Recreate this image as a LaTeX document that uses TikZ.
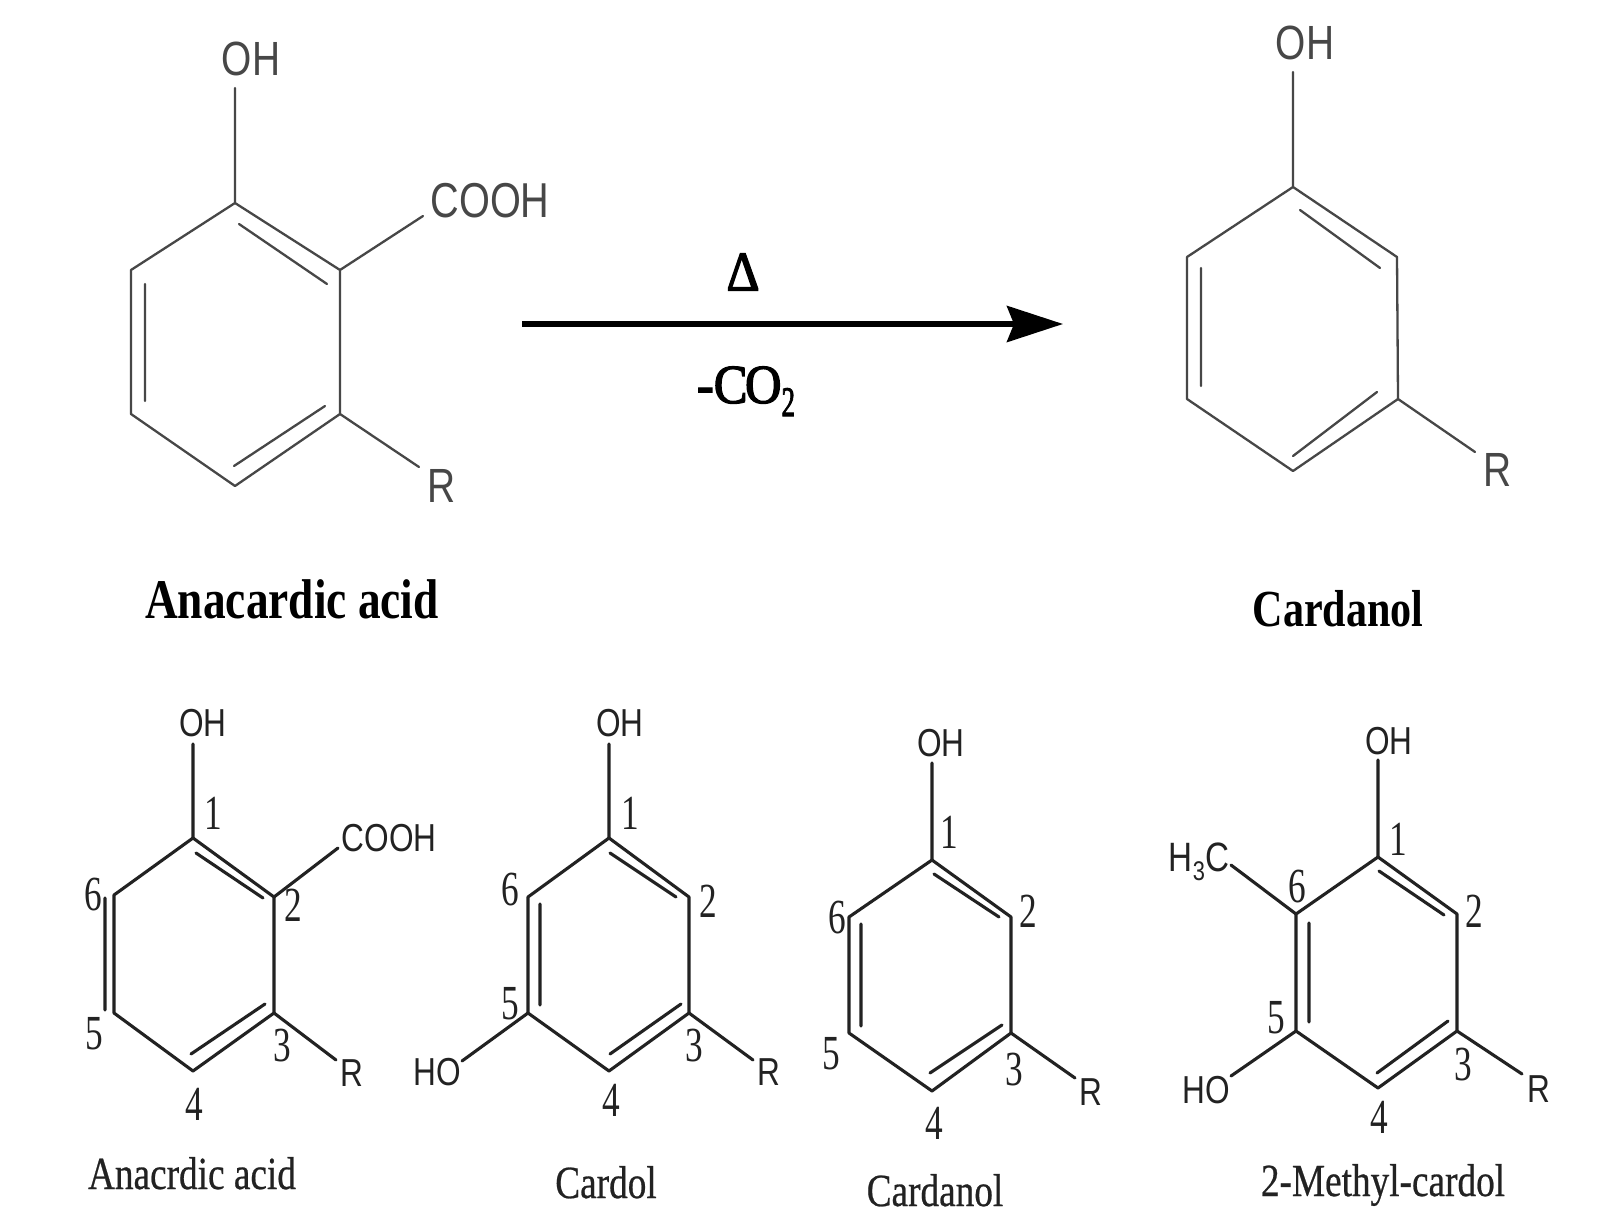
\documentclass[tikz,border=0pt]{standalone}
\usepackage{fontspec}
\setmainfont{Liberation Serif}
\newfontfamily\atomfont{Liberation Sans}
\newfontfamily\heavyserif[FakeBold=2.5]{Liberation Serif}
\newfontfamily\medserif[FakeBold=0.6]{Liberation Serif}
\usetikzlibrary{arrows.meta}
\definecolor{inkA}{HTML}{474747}
\definecolor{inkB}{HTML}{222222}
\newcommand{\squeezed}[2]{{\fontsize{#1}{#1}\selectfont\scalebox{0.81}[1]{#2}}}
\newcommand{\digitlab}[1]{{\fontsize{49}{49}\selectfont\scalebox{0.72}[1]{#1}}}
\newcommand{\subfig}[2]{\raisebox{-.22em}{\fontsize{#1}{#1}\selectfont #2}}
\tikzset{
  bondtop/.style={draw=inkA,line width=2.3pt,line join=round,line cap=round},
  bondlow/.style={draw=inkB,line width=3.1pt,line join=round,line cap=round},
  atomtop/.style={inner sep=0pt,text=inkA,font=\atomfont},
  atomlow/.style={inner sep=0pt,text=inkB,font=\atomfont},
  numlab/.style={inner sep=0pt,text=inkB,yshift=3.5pt},
  capbold/.style={inner sep=0pt,anchor=base,text=black,font=\bfseries},
  caplow/.style={inner sep=0pt,anchor=base,text=inkB,font=\medserif},
  rxnlab/.style={inner sep=0pt,text=black},
  rxnarrow/.style={draw=black,line width=5.5pt,-{Stealth[length=56pt,width=36pt,inset=7pt]}}
}
\begin{document}
\begin{tikzpicture}[x=1pt,y=-1pt]
\useasboundingbox[fill=white] (0,0) rectangle (1600,1223);

% --- top left: anacardic acid
\coordinate (a1) at (235,203);\coordinate (a2) at (340,270);\coordinate (a3) at (340,414);
\coordinate (a4) at (235,486);\coordinate (a5) at (131,414);\coordinate (a6) at (131,270);
\coordinate (aOHe) at (235,88);\coordinate (aCe) at (423,216);\coordinate (aRe) at (419,467);
\coordinate (ad1s) at (239,224);\coordinate (ad1e) at (327,284);
\coordinate (ad2s) at (145,284);\coordinate (ad2e) at (145,401);
\coordinate (ad3s) at (234,466);\coordinate (ad3e) at (325,406);
\draw[bondtop] (a1)--(a2)--(a3)--(a4)--(a5)--(a6)--cycle;
\draw[bondtop] (ad1s)--(ad1e) (ad2s)--(ad2e) (ad3s)--(ad3e);
\draw[bondtop] (a1)--(aOHe) (a2)--(aCe) (a3)--(aRe);
\node[atomtop] (aOH) at (251,59) {\squeezed{48}{OH}};
\node[atomtop] (aC) at (490,201) {\squeezed{49}{COOH}};
\node[atomtop] (aR) at (442,486) {\squeezed{48}{R}};
\node[capbold] (aCap) at (292,618) {\squeezed{56}{Anacardic acid}};

% --- reaction arrow
\coordinate (arS) at (522,324);\coordinate (arE) at (1063,324);
\draw[rxnarrow] (arS)--(arE);
\node[rxnlab] (delta) at (743,272) {\heavyserif\fontsize{56}{56}\selectfont\scalebox{0.92}[1]{Δ}};
\node[rxnlab,anchor=base] (co2) at (746,403) {\heavyserif\fontsize{55}{55}\selectfont\scalebox{0.92}[1]{-C\kern-.05em O\raisebox{-13pt}{\fontsize{42}{42}\selectfont\scalebox{0.7}[1]{2}}}};

% --- top right: cardanol
\coordinate (b1) at (1293,187);\coordinate (b2) at (1397,257);\coordinate (b3) at (1398,399);
\coordinate (b4) at (1293,471);\coordinate (b5) at (1187,399);\coordinate (b6) at (1187,257);
\coordinate (bOHe) at (1293,72);\coordinate (bRe) at (1475,452);
\coordinate (bd1s) at (1300,210);\coordinate (bd1e) at (1380,268);
\coordinate (bd2s) at (1201,268);\coordinate (bd2e) at (1201,386);
\coordinate (bd3s) at (1293,456);\coordinate (bd3e) at (1377,392);
\draw[bondtop] (b1)--(b2)--(b3)--(b4)--(b5)--(b6)--cycle;
\draw[bondtop] (bd1s)--(bd1e) (bd2s)--(bd2e) (bd3s)--(bd3e);
\draw[bondtop] (b1)--(bOHe) (b3)--(bRe);
\node[atomtop] (bOH) at (1305,43) {\squeezed{48}{OH}};
\node[atomtop] (bR) at (1498,470) {\squeezed{48}{R}};
\node[capbold] (bCap) at (1338,626) {\squeezed{52}{Cardanol}};

% --- bottom 1: anacrdic acid
\coordinate (c1) at (193,838);\coordinate (c2) at (274,897);\coordinate (c3) at (274,1013);
\coordinate (c4) at (193,1071);\coordinate (c5) at (114,1013);\coordinate (c6) at (114,895);
\coordinate (cOHe) at (193,744);\coordinate (cCe) at (338,848);\coordinate (cRe) at (336,1060);
\coordinate (cd1s) at (196,853);\coordinate (cd1e) at (263,898);
\coordinate (cd2s) at (105,898);\coordinate (cd2e) at (105,1010);
\coordinate (cd3s) at (191,1054);\coordinate (cd3e) at (265,1004);
\draw[bondlow] (c1)--(c2)--(c3)--(c4)--(c5)--(c6)--cycle;
\draw[bondlow] (cd1s)--(cd1e) (cd2s)--(cd2e) (cd3s)--(cd3e);
\draw[bondlow] (c1)--(cOHe) (c2)--(cCe) (c3)--(cRe);
\node[atomlow] (cOH) at (203,723) {\squeezed{39}{OH}};
\node[atomlow] (cC) at (389,838) {\squeezed{39}{COOH}};
\node[atomlow] (cR) at (352,1073) {\squeezed{39}{R}};
\node[numlab] (cn1) at (213,817) {\digitlab{1}};
\node[numlab] (cn2) at (293,909) {\digitlab{2}};
\node[numlab] (cn3) at (282,1049) {\digitlab{3}};
\node[numlab] (cn4) at (194,1108) {\digitlab{4}};
\node[numlab] (cn5) at (94,1037) {\digitlab{5}};
\node[numlab] (cn6) at (93,898) {\digitlab{6}};
\node[caplow] (cCap) at (192,1189) {\squeezed{46}{Anacrdic acid}};

% --- bottom 2: cardol
\coordinate (d1) at (609,838);\coordinate (d2) at (689,897);\coordinate (d3) at (689,1013);
\coordinate (d4) at (609,1071);\coordinate (d5) at (528,1013);\coordinate (d6) at (528,897);
\coordinate (dOHe) at (609,744);\coordinate (dHOe) at (462,1061);\coordinate (dRe) at (753,1060);
\coordinate (dd1s) at (610,853);\coordinate (dd1e) at (676,897);
\coordinate (dd2s) at (540,904);\coordinate (dd2e) at (540,1005);
\coordinate (dd3s) at (610,1054);\coordinate (dd3e) at (681,1004);
\draw[bondlow] (d1)--(d2)--(d3)--(d4)--(d5)--(d6)--cycle;
\draw[bondlow] (dd1s)--(dd1e) (dd2s)--(dd2e) (dd3s)--(dd3e);
\draw[bondlow] (d1)--(dOHe) (d5)--(dHOe) (d3)--(dRe);
\node[atomlow] (dOH) at (620,723) {\squeezed{39}{OH}};
\node[atomlow] (dHO) at (437,1072) {\squeezed{39}{HO}};
\node[atomlow] (dR) at (769,1072) {\squeezed{39}{R}};
\node[numlab] (dn1) at (630,817) {\digitlab{1}};
\node[numlab] (dn2) at (708,905) {\digitlab{2}};
\node[numlab] (dn3) at (694,1049) {\digitlab{3}};
\node[numlab] (dn4) at (611,1104) {\digitlab{4}};
\node[numlab] (dn5) at (510,1007) {\digitlab{5}};
\node[numlab] (dn6) at (510,893) {\digitlab{6}};
\node[caplow] (dCap) at (606,1198) {\squeezed{46}{Cardol}};

% --- bottom 3: cardanol
\coordinate (e1) at (932,860);\coordinate (e2) at (1011,917);\coordinate (e3) at (1011,1033);
\coordinate (e4) at (932,1091);\coordinate (e5) at (849,1033);\coordinate (e6) at (849,917);
\coordinate (eOHe) at (932,763);\coordinate (eRe) at (1075,1078);
\coordinate (ed1s) at (934,874);\coordinate (ed1e) at (999,917);
\coordinate (ed2s) at (861,924);\coordinate (ed2e) at (861,1026);
\coordinate (ed3s) at (930,1073);\coordinate (ed3e) at (1002,1025);
\draw[bondlow] (e1)--(e2)--(e3)--(e4)--(e5)--(e6)--cycle;
\draw[bondlow] (ed1s)--(ed1e) (ed2s)--(ed2e) (ed3s)--(ed3e);
\draw[bondlow] (e1)--(eOHe) (e3)--(eRe);
\node[atomlow] (eOH) at (941,743) {\squeezed{39}{OH}};
\node[atomlow] (eR) at (1091,1092) {\squeezed{39}{R}};
\node[numlab] (en1) at (949,836) {\digitlab{1}};
\node[numlab] (en2) at (1028,915) {\digitlab{2}};
\node[numlab] (en3) at (1014,1073) {\digitlab{3}};
\node[numlab] (en4) at (934,1127) {\digitlab{4}};
\node[numlab] (en5) at (831,1057) {\digitlab{5}};
\node[numlab] (en6) at (837,921) {\digitlab{6}};
\node[caplow] (eCap) at (935,1206) {\squeezed{46}{Cardanol}};

% --- bottom 4: 2-methyl-cardol
\coordinate (f1) at (1378,857);\coordinate (f2) at (1457,914);\coordinate (f3) at (1457,1031);
\coordinate (f4) at (1378,1088);\coordinate (f5) at (1296,1031);\coordinate (f6) at (1296,914);
\coordinate (fOHe) at (1378,760);\coordinate (fMe) at (1231,865);\coordinate (fHOe) at (1231,1076);\coordinate (fRe) at (1522,1074);
\coordinate (fd1s) at (1379,871);\coordinate (fd1e) at (1444,915);
\coordinate (fd2s) at (1309,923);\coordinate (fd2e) at (1309,1022);
\coordinate (fd3s) at (1377,1073);\coordinate (fd3e) at (1448,1021);
\draw[bondlow] (f1)--(f2)--(f3)--(f4)--(f5)--(f6)--cycle;
\draw[bondlow] (fd1s)--(fd1e) (fd2s)--(fd2e) (fd3s)--(fd3e);
\draw[bondlow] (f1)--(fOHe) (f6)--(fMe) (f5)--(fHOe) (f3)--(fRe);
\node[atomlow] (fOH) at (1389,741) {\squeezed{39}{OH}};
\node[atomlow,anchor=base] (fMeL) at (1199,871) {\squeezed{41}{H\subfig{27}{3}C}};
\node[atomlow] (fHO) at (1206,1090) {\squeezed{39}{HO}};
\node[atomlow] (fR) at (1539,1089) {\squeezed{39}{R}};
\node[numlab] (fn1) at (1398,843) {\digitlab{1}};
\node[numlab] (fn2) at (1474,915) {\digitlab{2}};
\node[numlab] (fn3) at (1463,1068) {\digitlab{3}};
\node[numlab] (fn4) at (1379,1121) {\digitlab{4}};
\node[numlab] (fn5) at (1276,1021) {\digitlab{5}};
\node[numlab] (fn6) at (1297,890) {\digitlab{6}};
\node[caplow] (fCap) at (1383,1196) {\squeezed{46}{2-Methyl-cardol}};
\end{tikzpicture}
\end{document}
